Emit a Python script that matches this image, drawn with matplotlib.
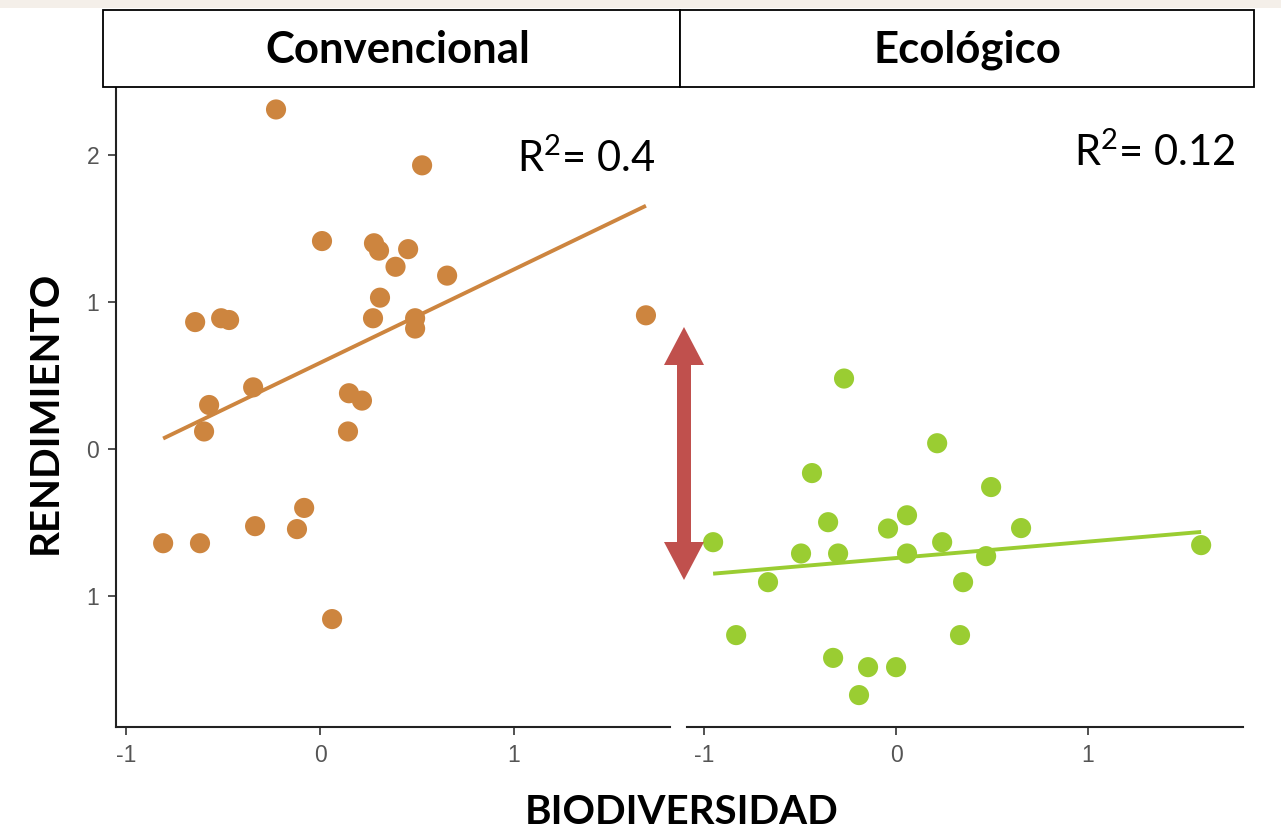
import numpy as np
import matplotlib
matplotlib.use("Agg")
import matplotlib.pyplot as plt
from matplotlib.patches import Rectangle, Polygon

# ---------------- data ----------------
panels = ["Convencional", "Ecológico"]
r2_labels = ["0.4", "0.12"]

conv_x = [-0.227, 0.526, 0.010, 0.278, 0.304, 0.454, 0.389, 0.655, 0.309, 0.273,
          0.490, 0.490, 1.680, -0.644, -0.510, -0.469, -0.345, -0.572, -0.598,
          0.149, 0.216, 0.144, -0.809, -0.619, -0.335, -0.082, -0.119, 0.062]
conv_y = [2.31, 1.93, 1.415, 1.40, 1.35, 1.36, 1.24, 1.18, 1.03, 0.89,
          0.89, 0.82, 0.91, 0.864, 0.89, 0.878, 0.42, 0.30, 0.12,
          0.38, 0.33, 0.12, -0.64, -0.64, -0.524, -0.40, -0.544, -1.156]

eco_x = [-0.271, 0.214, -0.438, -0.354, -0.042, 0.057, -0.953, -0.495, -0.302,
         0.057, 0.240, -0.667, 0.349, -0.833, 0.333, -0.328, -0.146, 0.000,
         -0.193, 0.495, 0.651, 0.469, 1.589]
eco_y = [0.48, 0.04, -0.163, -0.497, -0.54, -0.45, -0.633, -0.71, -0.71,
         -0.71, -0.633, -0.905, -0.905, -1.265, -1.265, -1.42, -1.483, -1.483,
         -1.673, -0.258, -0.537, -0.728, -0.653]

y_ticks = [2, 1, 0, -1]
y_tick_labels = ["2", "1", "0", "1"]
x_ticks = [-1, 0, 1]
x_tick_labels = ["-1", "0", "1"]

colors = ["#CD853F", "#9ACD32"]
arrow_color = "#C0504D"

# ---------------- figure ----------------
W, H = 1281, 833
plt.rcParams['mathtext.fontset'] = 'custom'
plt.rcParams['mathtext.rm'] = 'Lato'
plt.rcParams['mathtext.it'] = 'Lato'
fig = plt.figure(figsize=(W / 100, H / 100), dpi=100)
fig.patch.set_facecolor("white")


def fx(px):
    return px / W


def fy(py):
    return 1 - py / H


# beige band at top
fig.add_artist(Rectangle((0, fy(8)), 1, 8 / H, transform=fig.transFigure,
                         facecolor="#F4EFE9", edgecolor="none", zorder=0))

ax_top, ax_bot = 88, 727
axes_px = [(116, 670), (687, 1243)]
xlims = [(-1.052, 1.804), (-1.089, 1.807)]
ylim = (-1.89, 2.456)

datasets = [(conv_x, conv_y), (eco_x, eco_y)]
axes = []
for i, ((l, r), (xs, ys)) in enumerate(zip(axes_px, datasets)):
    ax = fig.add_axes([fx(l), fy(ax_bot), (r - l) / W, (ax_bot - ax_top) / H])
    axes.append(ax)
    ax.set_xlim(*xlims[i])
    ax.set_ylim(*ylim)
    xs = np.array(xs)
    ys = np.array(ys)
    ax.scatter(xs, ys, s=210, color=colors[i], edgecolors="none", zorder=3)
    k, b = np.polyfit(xs, ys, 1)
    xx = np.array([xs.min(), xs.max()])
    ax.plot(xx, k * xx + b, color=colors[i], lw=2.8, zorder=2,
            solid_capstyle="butt")
    for s in ["top", "right"]:
        ax.spines[s].set_visible(False)
    ax.spines["bottom"].set_linewidth(1.5)
    ax.spines["bottom"].set_color("#222222")
    ax.spines["left"].set_linewidth(1.5)
    ax.spines["left"].set_color("#222222")
    ax.set_xticks(x_ticks)
    ax.set_xticklabels(x_tick_labels)
    ax.tick_params(axis="both", length=6, width=1.2, color="#333333",
                   labelcolor="#555555", labelsize=16.5, pad=6)
    for t in ax.get_xticklabels() + ax.get_yticklabels():
        t.set_fontfamily("Liberation Sans")
    if i == 0:
        ax.set_yticks(y_ticks)
        ax.set_yticklabels(y_tick_labels)
        for t in ax.get_yticklabels():
            t.set_fontfamily("Liberation Sans")
    else:
        ax.spines["left"].set_visible(False)
        ax.set_yticks([])
    ax.patch.set_alpha(0)

# R^2 annotations
fig.text(fx(655), fy(158), r"$\mathregular{R^2}$= " + r2_labels[0], ha="right",
         va="center", fontsize=30, family="Lato", color="black")
fig.text(fx(1235), fy(152), r"$\mathregular{R^2}$= " + r2_labels[1], ha="right",
         va="center", fontsize=30, family="Lato", color="black")

# strip boxes
strips = [(103, 680), (680, 1254)]
for (l, r), name in zip(strips, panels):
    fig.add_artist(Rectangle((fx(l), fy(87)), (r - l) / W, 77 / H,
                             transform=fig.transFigure, facecolor="white",
                             edgecolor="black", lw=1.3, zorder=5))
for cx, name in zip([398, 967], panels):
    fig.text(fx(cx), fy(50), name, ha="center", va="center", fontsize=31.5,
             fontweight="bold", family="Lato", color="black", zorder=6)

# axis titles
fig.text(fx(682), fy(813), "BIODIVERSIDAD", ha="center", va="center",
         fontsize=29, fontweight="bold", family="Lato", color="black")
fig.text(fx(45), fy(412), "RENDIMIENTO", ha="center", va="center",
         rotation=90, fontsize=29, fontweight="bold", family="Lato",
         color="black")

# red double arrow
cx, top, bot, hw, hl, sw = 684, 327, 580, 20, 38, 7
pts = [(cx, top), (cx + hw, top + hl), (cx + sw, top + hl), (cx + sw, bot - hl),
       (cx + hw, bot - hl), (cx, bot), (cx - hw, bot - hl), (cx - sw, bot - hl),
       (cx - sw, top + hl), (cx - hw, top + hl)]
fig.add_artist(Polygon([(fx(x), fy(y)) for x, y in pts], closed=True,
                       transform=fig.transFigure, facecolor=arrow_color,
                       edgecolor="none", zorder=10))

fig.savefig("out.png", dpi=100)
